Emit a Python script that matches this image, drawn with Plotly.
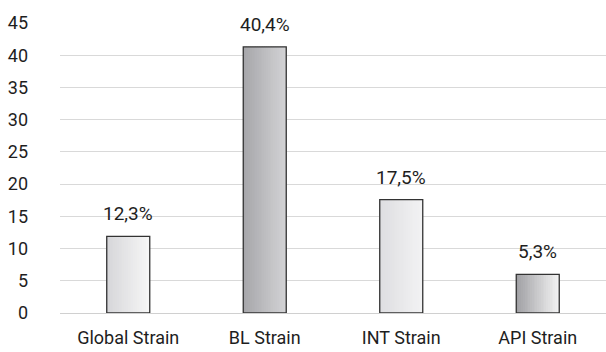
import plotly.graph_objects as go

categories = ["Global Strain", "BL Strain", "INT Strain", "API Strain"]
bar_values = [11.9, 41.3, 17.6, 6.0]
value_labels = ["12,3%", "40,4%", "17,5%", "5,3%"]
y_ticks = [0, 5, 10, 15, 20, 25, 30, 35, 40, 45]

# gradient endpoints (left -> right) for each bar
grad_left = [(214, 214, 217), (166, 166, 170), (222, 222, 225), (160, 160, 164)]
grad_right = [(246, 246, 246), (210, 210, 212), (242, 242, 243), (242, 242, 242)]

FONT = "Roboto, Liberation Sans, DejaVu Sans, sans-serif"
TICK = dict(family=FONT, size=18, color="#1e1e1e")
LAB = dict(family=FONT, size=19, color="#1e1e1e")
BAR_W = 0.315
N = 24

fig = go.Figure()
for k in range(N):
    t = k / (N - 1)
    cols = []
    for a, b in zip(grad_left, grad_right):
        c = tuple(int(round(a[i] + (b[i] - a[i]) * t)) for i in range(3))
        cols.append(f"rgb({c[0]},{c[1]},{c[2]})")
    fig.add_trace(go.Bar(
        x=categories, y=bar_values,
        width=BAR_W / N * 1.08, offset=-BAR_W / 2 + k * BAR_W / N,
        marker=dict(color=cols, line=dict(width=0)),
        hoverinfo="skip", showlegend=False,
    ))

fig.add_trace(go.Bar(
    x=categories, y=bar_values, width=BAR_W, offset=-BAR_W / 2,
    marker=dict(color="rgba(0,0,0,0)", line=dict(color="#333333", width=1.3)),
    showlegend=False,
))

for c, v, lab in zip(categories, bar_values, value_labels):
    fig.add_annotation(x=c, y=v, text=lab, showarrow=False, yanchor="bottom",
                       yshift=9, font=LAB)

fig.update_layout(
    width=606, height=352, barmode="overlay",
    margin=dict(l=60, r=0, t=23, b=39, autoexpand=False),
    paper_bgcolor="white", plot_bgcolor="white",
    font=TICK,
    xaxis=dict(showgrid=False, showline=False, ticks="", ticklabelstandoff=12,
               automargin=False, tickfont=TICK),
    yaxis=dict(range=[0, 45], tickvals=y_ticks, showgrid=True, gridcolor="#d9d9d9",
               gridwidth=1, zeroline=True, zerolinecolor="#d0d0d0", zerolinewidth=1,
               showline=False, ticks="", ticklabelstandoff=31, automargin=False,
               tickfont=TICK),
)

fig.write_html("out.html", config={"displayModeBar": False},
               post_script="document.body.style.margin='0';")
